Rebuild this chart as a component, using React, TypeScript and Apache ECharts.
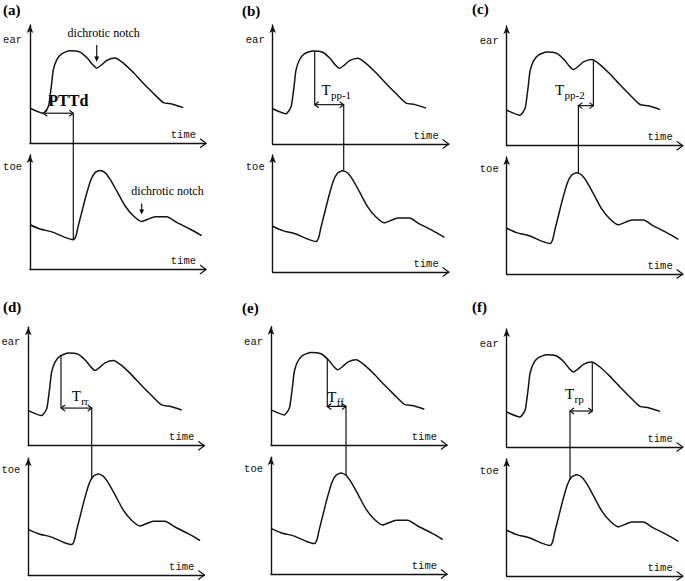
import React, { useEffect, useRef } from 'react';
import * as echarts from 'echarts';

// ---- data (template waveforms) ----
const panelLabels = ['(a)', '(b)', '(c)', '(d)', '(e)', '(f)'];
const earTime = [0, 13.3, 18.3, 20, 21.7, 23.3, 26.7, 31.7, 40, 50, 57.3, 62.7, 66.7, 71.7, 76.7, 85, 93.3, 103.3, 113.3, 123.3, 133.3, 141.7, 153.3];
const earValues = [35, 30, 36.6, 46.6, 60, 73.3, 83.3, 89.3, 92.3, 91, 85, 78.3, 75, 78.3, 82.6, 85, 80, 70.6, 60, 50, 40.6, 39.3, 35.6];
const toeTime = [0, 10, 23.3, 35, 43.3, 46, 48.3, 51.7, 56, 60.7, 65, 70, 75, 80, 86.7, 95, 103.3, 111.7, 118.3, 125, 136.7, 146.7, 160, 171.7];
const toeValues = [45, 40.7, 37.3, 32.3, 30, 34, 44, 57.3, 74, 89.7, 97.3, 99.5, 97.3, 90.7, 79, 64, 54, 48.3, 50.7, 53, 53, 47.3, 40.7, 34];
const timeMax = 176;
const earMax = 118;
const toeMax = 115;

// annotation values (time on ear, time on toe, arrow level on ear scale)
const annotEarTime = [13.3, 42, 86.7, 32.7, 56.3, 85.6];
const annotToeTime = [43.3, 71, 71.7, 63.4, 75, 63.3];
const annotLevel = [30, 39, 39.5, 37.5, 38.5, 36];
const annotMain = ['PTTd', 'T', 'T', 'T', 'T', 'T'];
const annotSub = ['', 'pp-1', 'pp-2', 'rr', 'ff', 'rp'];
const earNotchTime = 66.7;
const toeNotchTime = 111.7;
const notchText = 'dichrotic notch';
const earName = 'ear';
const toeName = 'toe';
const timeName = 'time';

// ---- layout ----
const panelLeft = [30, 272.7, 506.7, 28.3, 271, 506.7];
const panelRows = [
  [25, 143.3, 155, 269.5],
  [25, 144, 155, 272],
  [26, 145.7, 157, 274],
  [327.3, 445.7, 458.3, 575],
  [326.7, 445, 457.3, 574],
  [329, 447, 459, 576],
];
const panelLabelPos = [[3, 10], [242, 11], [472, 9], [3, 307], [242, 308], [472, 307]];
// text offset relative to arrow's left end / arrow y
const annotTextOff = [[5, -13], [6.7, -14.5], [-23.3, -16], [10.7, -12], [0, -9.5], [-5, -17.5]];

const INK = '#131313';
const MONO = '"Liberation Mono", "DejaVu Sans Mono", monospace';
const SERIF = '"Liberation Serif", "DejaVu Serif", serif';

function interp(ts: number[], vs: number[], t: number): number {
  for (let i = 0; i < ts.length - 1; i++) {
    if (t >= ts[i] && t <= ts[i + 1]) {
      const f = (t - ts[i]) / (ts[i + 1] - ts[i]);
      return vs[i] + f * (vs[i + 1] - vs[i]);
    }
  }
  return vs[vs.length - 1];
}

export default function App() {
  const ref = useRef<HTMLDivElement>(null);
  useEffect(() => {
    const chart = echarts.init(ref.current!, null, { renderer: 'svg' });
    const grids: any[] = [];
    const xAxes: any[] = [];
    const yAxes: any[] = [];
    const series: any[] = [];
    for (let p = 0; p < 6; p++) {
      const r = panelRows[p];
      const parts = [
        { top: r[0], bottom: r[1], max: earMax, name: earName, ts: earTime, vs: earValues, gap: -15 },
        { top: r[2], bottom: r[3], max: toeMax, name: toeName, ts: toeTime, vs: toeValues, gap: -12 },
      ];
      parts.forEach((pt) => {
        const gi = grids.length;
        grids.push({
          left: panelLeft[p], top: pt.top, width: timeMax, height: pt.bottom - pt.top,
          containLabel: false, outerBoundsMode: 'none', show: false,
        });
        xAxes.push({
          gridIndex: gi, type: 'value', min: 0, max: timeMax,
          axisLine: { show: true, onZero: false, lineStyle: { color: INK, width: 1.4 } },
          axisTick: { show: false }, axisLabel: { show: false }, splitLine: { show: false },
          name: timeName, nameLocation: 'end', nameGap: -10,
          nameTextStyle: { fontFamily: MONO, fontSize: 10.5, color: '#111', align: 'right', verticalAlign: 'bottom', padding: [0, 0, 3, 0] },
        });
        yAxes.push({
          gridIndex: gi, type: 'value', min: 0, max: pt.max,
          axisLine: { show: true, onZero: false, symbol: ['none', 'arrow'], symbolSize: [5, 8], lineStyle: { color: INK, width: 1.4 } },
          axisTick: { show: false }, axisLabel: { show: false }, splitLine: { show: false },
          name: pt.name, nameLocation: 'end', nameGap: pt.gap,
          nameTextStyle: { fontFamily: MONO, fontSize: 10.5, color: '#111', align: 'right', verticalAlign: 'middle', padding: [0, 8, 0, 0] },
        });
        series.push({
          type: 'line', xAxisIndex: gi, yAxisIndex: gi,
          data: pt.ts.map((t, i) => [t, pt.vs[i]]),
          showSymbol: false, smooth: 0.2, silent: true,
          lineStyle: { color: INK, width: 1.5 },
        });
      });
    }
    chart.setOption({
      animation: false,
      backgroundColor: '#ffffff',
      grid: grids, xAxis: xAxes, yAxis: yAxes, series,
    });

    const px = (gi: number, x: number, y: number) => chart.convertToPixel({ gridIndex: gi } as any, [x, y]) as number[];
    const g: any[] = [];
    const lineSt = { stroke: INK, lineWidth: 1.2 };
    const addLine = (a: number[], b: number[]) => g.push({ type: 'line', shape: { x1: a[0], y1: a[1], x2: b[0], y2: b[1] }, style: lineSt, silent: true });
    const addPoly = (pts: number[][]) => g.push({ type: 'polyline', shape: { points: pts }, style: { ...lineSt, fill: null }, silent: true });

    for (let p = 0; p < 6; p++) {
      const eg = 2 * p, tg = 2 * p + 1;
      // x-axis open arrowheads
      [eg, tg].forEach((gi) => {
        const e = px(gi, timeMax, 0);
        addPoly([[e[0] - 6, e[1] - 4.5], [e[0], e[1]], [e[0] - 6, e[1] + 4.5]]);
      });
      // panel label
      g.push({
        type: 'text', x: panelLabelPos[p][0], y: panelLabelPos[p][1], silent: true,
        style: { text: panelLabels[p], font: `bold 15px ${SERIF}`, fill: '#000', verticalAlign: 'middle', align: 'left' },
      });
      // annotation
      const et = annotEarTime[p], tt = annotToeTime[p], lv = annotLevel[p];
      const ev = interp(earTime, earValues, et);
      const tv = interp(toeTime, toeValues, tt);
      const A = px(eg, et, ev);
      const B = px(eg, et, lv);
      const C = px(eg, tt, lv);
      const D = px(tg, tt, tv);
      if (ev - lv > 1) addLine(A, B);
      addLine(B, C);
      addLine(C, [C[0], D[1]]);
      const xl = Math.min(B[0], C[0]), xr = Math.max(B[0], C[0]), ya = B[1];
      addPoly([[xl + 4, ya - 3], [xl, ya], [xl + 4, ya + 3]]);
      addPoly([[xr - 4, ya - 3], [xr, ya], [xr - 4, ya + 3]]);
      const tx = xl + annotTextOff[p][0], ty = ya + annotTextOff[p][1];
      if (p === 0) {
        g.push({ type: 'text', x: tx, y: ty, silent: true, style: { text: annotMain[p], font: `bold 16px ${SERIF}`, fill: '#000', verticalAlign: 'middle' } });
      } else {
        g.push({ type: 'text', x: tx, y: ty, silent: true, style: { text: annotMain[p], font: `15px ${SERIF}`, fill: '#000', verticalAlign: 'middle' } });
        g.push({ type: 'text', x: tx + 9.5, y: ty + 5, silent: true, style: { text: annotSub[p], font: `11px ${SERIF}`, fill: '#000', verticalAlign: 'middle' } });
      }
      // dichrotic notch annotations on panel (a)
      if (p === 0) {
        const en = px(eg, earNotchTime, interp(earTime, earValues, earNotchTime));
        addLine([en[0], en[1] - 23], [en[0], en[1] - 10]);
        g.push({ type: 'polygon', shape: { points: [[en[0] - 2.5, en[1] - 11.5], [en[0] + 2.5, en[1] - 11.5], [en[0], en[1] - 6]] }, style: { fill: INK }, silent: true });
        g.push({ type: 'text', x: en[0] + 7, y: en[1] - 35.6, silent: true, style: { text: notchText, font: `12px ${SERIF}`, fill: '#000', align: 'center', verticalAlign: 'middle' } });
        const tn = px(tg, toeNotchTime, interp(toeTime, toeValues, toeNotchTime));
        addLine([tn[0], tn[1] - 18], [tn[0], tn[1] - 10.5]);
        g.push({ type: 'polygon', shape: { points: [[tn[0] - 2.5, tn[1] - 12], [tn[0] + 2.5, tn[1] - 12], [tn[0], tn[1] - 7]] }, style: { fill: INK }, silent: true });
        g.push({ type: 'text', x: tn[0] + 25.8, y: tn[1] - 30.7, silent: true, style: { text: notchText, font: `12px ${SERIF}`, fill: '#000', align: 'center', verticalAlign: 'middle' } });
      }
    }
    chart.setOption({ graphic: { elements: g } });
    return () => chart.dispose();
  }, []);
  return <div ref={ref} style={{ position: 'absolute', left: 0, top: 0, width: 685, height: 581, background: '#fff' }} />;
}
